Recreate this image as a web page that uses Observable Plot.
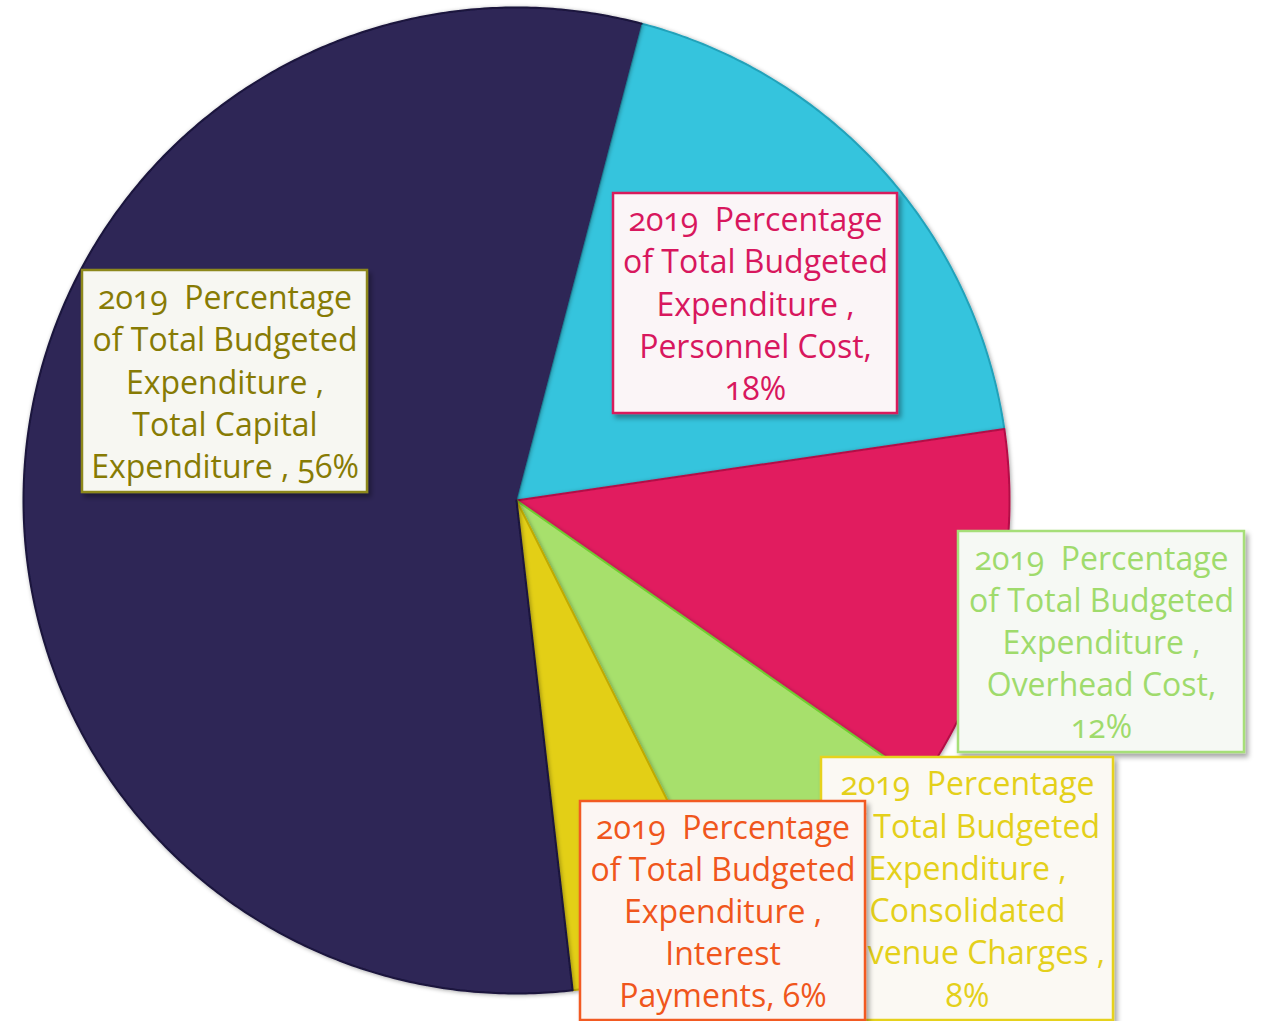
<!DOCTYPE html>
<html><head><meta charset="utf-8">
<script src="https://cdn.jsdelivr.net/npm/d3@7"></script>
<script src="https://cdn.jsdelivr.net/npm/@observablehq/plot@0.6"></script>
<style>
html,body{margin:0;padding:0;background:#fff;}
#chart svg{display:block;}
#chart svg text{white-space:pre;font-variant-numeric:oldstyle-nums;}
</style></head><body><div id="chart"></div>
<script>
// ---- data ----
const categories = ["Personnel Cost", "Overhead Cost", "Consolidated Revenue Charges", "Interest Payments", "Total Capital Expenditure"];
const values = [18.6, 12.0, 7.9, 5.6, 55.9];
const labelTexts = [
  "2019  Percentage\nof Total Budgeted\nExpenditure ,\nPersonnel Cost,\n18%",
  "2019  Percentage\nof Total Budgeted\nExpenditure ,\nOverhead Cost,\n12%",
  "2019  Percentage\nof Total Budgeted\nExpenditure ,\nConsolidated\nRevenue Charges ,\n8%",
  "2019  Percentage\nof Total Budgeted\nExpenditure ,\nInterest\nPayments, 6%",
  "2019  Percentage\nof Total Budgeted\nExpenditure ,\nTotal Capital\nExpenditure , 56%"
];
const sliceColors = ["#34c4dd", "#e11b5e", "#a7e06c", "#e3cf16", "#2d2556"];
const sliceEdgeColors = ["#24a2ba", "#b31047", "#70cc30", "#c0aa04", "#1a143c"];
const labelTextColors = ["#d8175e", "#9fdb6c", "#e4d01a", "#f0561c", "#877b04"];
const labelBorderColors = ["#d81b5c", "#a6df78", "#e6d21c", "#f25a22", "#8d881e"];
const labelFills = ["#fbf5f7", "#f6f9f4", "#fbf9f3", "#fcf6f3", "#f7f7f2"];

// ---- layout ----
const W = 1261, H = 1021;
const cx = 516, cy = 500, R = 493, startDeg = 14.7;
const labelBoxes = [
  {x1: 613, y1: 193, x2: 897, y2: 413},
  {x1: 958, y1: 531, x2: 1244, y2: 752},
  {x1: 821, y1: 757, x2: 1113, y2: 1020},
  {x1: 580, y1: 801, x2: 865, y2: 1020},
  {x1: 82, y1: 270, x2: 367, y2: 492}
];
const labelOrder = [4, 0, 1, 2, 3];

const total = d3.sum(values);
let acc = startDeg;
const slices = values.map((v, i) => {
  const a0 = acc, a1 = acc + v / total * 360;
  acc = a1;
  return {i, a0, a1};
});
const slicePoints = [];
slices.forEach(s => {
  slicePoints.push({cat: categories[s.i], x: cx, y: cy});
  const n = Math.ceil((s.a1 - s.a0) / 0.5);
  for (let k = 0; k <= n; k++) {
    const t = (s.a0 + (s.a1 - s.a0) * k / n) * Math.PI / 180;
    slicePoints.push({cat: categories[s.i], x: cx + R * Math.sin(t), y: cy - R * Math.cos(t)});
  }
});

const marks = [];
slices.forEach(s => {
  marks.push(Plot.line(slicePoints.filter(p => p.cat === categories[s.i]), {x: "x", y: "y", fill: sliceColors[s.i], stroke: sliceEdgeColors[s.i], strokeWidth: 2}));
});
labelOrder.forEach(i => {
  const b = labelBoxes[i];
  marks.push(Plot.rect([b], {x1: "x1", x2: "x2", y1: "y1", y2: "y2", fill: labelFills[i], stroke: labelBorderColors[i], strokeWidth: 2.5}));
  marks.push(Plot.text([b], {x: d => (d.x1 + d.x2) / 2, y: d => (d.y1 + d.y2) / 2, dy: -1.5, text: () => labelTexts[i], fill: labelTextColors[i], fontSize: 32, lineHeight: 1.32, lineAnchor: "middle", textAnchor: "middle", fontFamily: "'Open Sans', sans-serif"}));
});

const svg = Plot.plot({
  width: W, height: H, margin: 0,
  x: {domain: [0, W], range: [0, W], axis: null},
  y: {domain: [0, H], range: [0, H], axis: null},
  style: {background: "#ffffff"},
  marks
});
// shadow filters
const defs = d3.select(svg).insert("defs", ":first-child");
const f = defs.append("filter").attr("id", "boxShadow").attr("x", "-10%").attr("y", "-10%").attr("width", "130%").attr("height", "130%");
f.append("feDropShadow").attr("dx", 3).attr("dy", 4).attr("stdDeviation", 2.5).attr("flood-color", "#000").attr("flood-opacity", 0.35);
const f2 = defs.append("filter").attr("id", "sliceShadow").attr("x", "-10%").attr("y", "-10%").attr("width", "130%").attr("height", "130%");
f2.append("feDropShadow").attr("dx", 1).attr("dy", 1).attr("stdDeviation", 2).attr("flood-color", "#000").attr("flood-opacity", 0.35);
d3.select(svg).selectAll('g[aria-label="rect"] rect').attr("filter", "url(#boxShadow)");
d3.select(svg).selectAll('g[aria-label="line"] path').attr("filter", "url(#sliceShadow)");
document.getElementById("chart").appendChild(svg);
</script></body></html>
